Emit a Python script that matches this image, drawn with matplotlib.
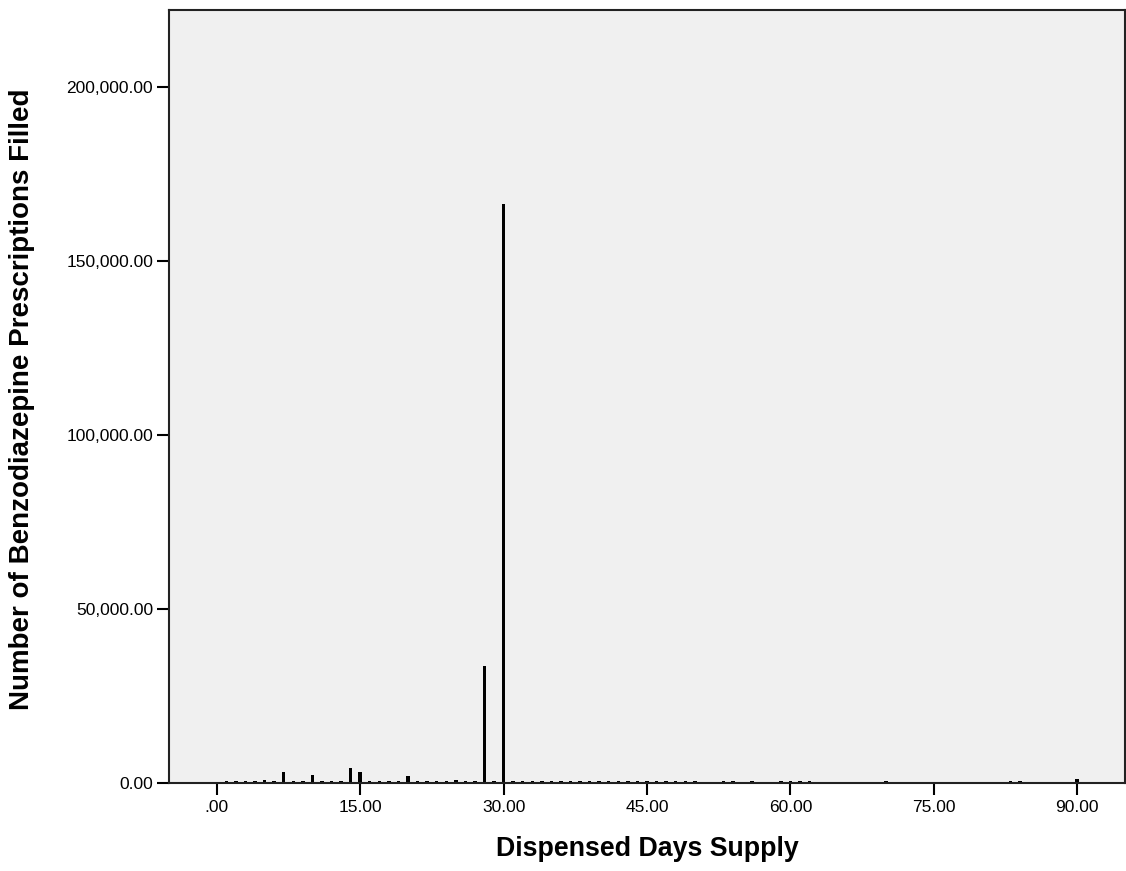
import matplotlib
matplotlib.use("Agg")
import matplotlib.pyplot as plt

plt.rcParams['font.family'] = ['Liberation Sans', 'DejaVu Sans']

# Data
days = list(range(1, 51)) + [53, 54, 56, 59, 60, 61, 62, 70, 83, 84, 90]
counts = [700, 700, 700, 700, 1000, 700, 3300, 700, 700, 2300,
          700, 700, 700, 4300, 3300, 700, 700, 700, 700, 2000,
          700, 700, 700, 700, 900, 700, 700, 33600, 700, 166400,
          600, 600, 600, 600, 600, 600, 600, 600, 600, 600,
          600, 600, 600, 600, 600, 600, 600, 600, 600, 600,
          600, 600, 600, 600, 600, 600, 600, 600, 600, 600, 1100]

x_ticks = [0, 15, 30, 45, 60, 75, 90]
x_tick_labels = [".00", "15.00", "30.00", "45.00", "60.00", "75.00", "90.00"]
y_ticks = [0, 50000, 100000, 150000, 200000]
y_tick_labels = ["0.00", "50,000.00", "100,000.00", "150,000.00", "200,000.00"]

fig = plt.figure(figsize=(11.26, 8.71), dpi=100)
ax = fig.add_axes([169/1126, 88/871, 956/1126, 773/871])
ax.set_facecolor('#F0F0F0')

ax.bar(days, counts, width=0.36, color='black', edgecolor='none', zorder=2)

ax.set_xlim(-5, 95)
ax.set_ylim(0, 222000)
ax.set_xticks(x_ticks)
ax.set_xticklabels(x_tick_labels)
ax.set_yticks(y_ticks)
ax.set_yticklabels(y_tick_labels)

for s in ax.spines.values():
    s.set_linewidth(1.5)
    s.set_color('#222222')
ax.tick_params(axis='both', direction='out', length=8.5, width=1.5,
               labelsize=12.5, colors='black')
ax.tick_params(axis='x', pad=4)
ax.tick_params(axis='y', pad=3)

ax.set_xlabel("Dispensed Days Supply", fontsize=19.3, fontweight='bold')
ax.set_ylabel("Number of Benzodiazepine Prescriptions Filled", fontsize=20,
              fontweight='bold')
ax.xaxis.set_label_coords(0.5, -0.0686)
ax.yaxis.set_label_coords(-0.140, 0.497)

fig.savefig("out.png", dpi=100, facecolor='white')
